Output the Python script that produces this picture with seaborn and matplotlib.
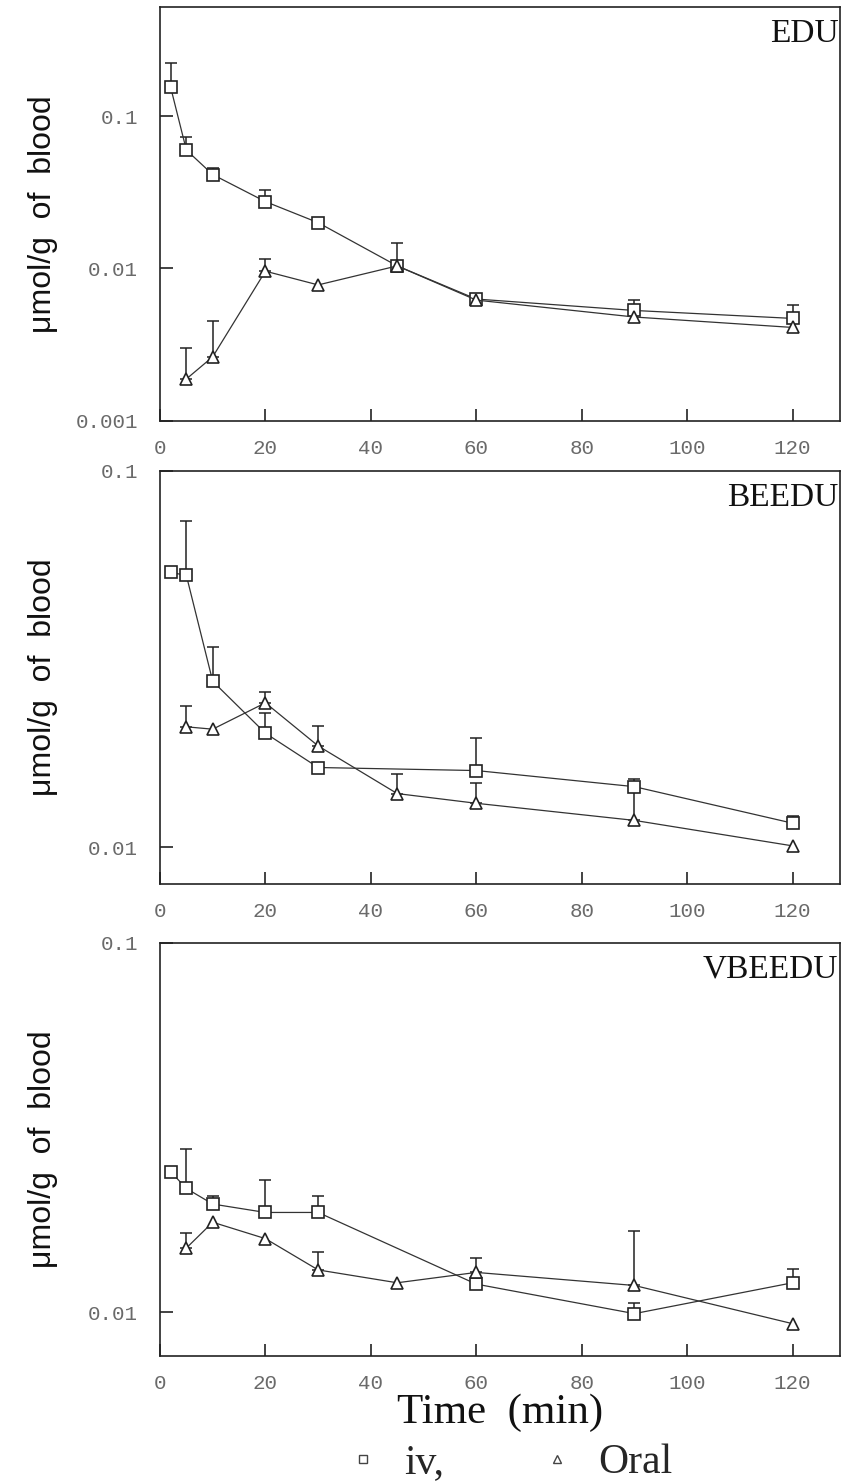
import numpy as np
import pandas as pd
import seaborn as sns
import matplotlib.pyplot as plt
from matplotlib.lines import Line2D
from matplotlib.ticker import NullLocator

# Sampling times (min)
t_iv = [2, 5, 10, 20, 30, 60, 90, 120]
t_iv_edu = [2, 5, 10, 20, 30, 45, 60, 90, 120]
t_oral = [5, 10, 20, 30, 45, 60, 90, 120]

# EDU (umol/g of blood), mean and upper end of error bar (nan = no bar)
edu_iv = [0.156, 0.060, 0.0414, 0.0275, 0.020, 0.0104, 0.0063, 0.0053, 0.0047]
edu_iv_top = [0.223, 0.073, 0.046, 0.0327, np.nan, np.nan, np.nan, 0.0062, 0.0058]
edu_oral = [0.00188, 0.00263, 0.0096, 0.0078, 0.0104, 0.0062, 0.0048, 0.0041]
edu_oral_top = [0.0030, 0.0045, 0.0115, np.nan, 0.0146, np.nan, np.nan, np.nan]

# BEEDU
beedu_iv = [0.0537, 0.0527, 0.0276, 0.0201, 0.0163, 0.0160, 0.0145, 0.0116]
beedu_iv_top = [np.nan, 0.0736, 0.034, 0.0228, np.nan, 0.0195, 0.0152, 0.0121]
beedu_oral = [0.0209, 0.0206, 0.0242, 0.0186, 0.0139, 0.0131, 0.0118, 0.0101]
beedu_oral_top = [0.0238, np.nan, 0.0258, 0.0210, 0.0157, 0.0148, 0.0140, np.nan]

# VBEEDU
vbeedu_iv = [0.0240, 0.0216, 0.0196, 0.0186, 0.0186, 0.0119, 0.0099, 0.0120]
vbeedu_iv_top = [np.nan, 0.0277, 0.0206, 0.0227, 0.0206, np.nan, 0.0106, 0.0131]
vbeedu_oral = [0.0149, 0.0175, 0.0158, 0.0130, 0.0120, 0.0128, 0.0118, 0.0093]
vbeedu_oral_top = [0.0164, np.nan, np.nan, 0.0145, np.nan, 0.0140, 0.0166, np.nan]

x_ticks = [0, 20, 40, 60, 80, 100, 120]

panels = [
    ('EDU', t_iv_edu, edu_iv, edu_iv_top, edu_oral, edu_oral_top,
     (0.001, 0.52), [0.001, 0.01, 0.1], ['0.001', '0.01', '0.1']),
    ('BEEDU', t_iv, beedu_iv, beedu_iv_top, beedu_oral, beedu_oral_top,
     (0.008, 0.1), [0.01, 0.1], ['0.01', '0.1']),
    ('VBEEDU', t_iv, vbeedu_iv, vbeedu_iv_top, vbeedu_oral, vbeedu_oral_top,
     (0.0076, 0.1), [0.01, 0.1], ['0.01', '0.1']),
]

sns.set_style('ticks')
plt.rcParams['font.family'] = ['Liberation Sans', 'DejaVu Sans']

fig = plt.figure(figsize=(8.43, 14.83), dpi=100)
bottoms = [0.7163, 0.4039, 0.0856]

mono = 'Liberation Mono'
serif = 'Liberation Serif'
ink = '#222222'

for (name, t_i, iv, iv_top, oral, oral_top, ylim, yt, ytl), b in zip(panels, bottoms):
    ax = fig.add_axes([0.1898, b, 0.8066, 0.2788])

    df = pd.concat([
        pd.DataFrame({'time': t_i, 'conc': iv, 'route': 'iv'}),
        pd.DataFrame({'time': t_oral, 'conc': oral, 'route': 'Oral'}),
    ])

    # upper error bars only
    for t, y, top in [(t_i, iv, iv_top), (t_oral, oral, oral_top)]:
        t = np.array(t, float)
        y = np.array(y)
        top = np.array(top)
        m = ~np.isnan(top)
        ax.errorbar(t[m], y[m], yerr=[np.zeros(m.sum()), top[m] - y[m]],
                    fmt='none', ecolor=ink, elinewidth=1.1, capsize=4,
                    capthick=1.1, zorder=1.5)

    sns.lineplot(data=df, x='time', y='conc', style='route',
                 markers={'iv': 's', 'Oral': '^'}, dashes=False,
                 color='#333333', lw=0.9, markersize=8.5,
                 markerfacecolor='white', markeredgecolor=ink,
                 markeredgewidth=1.2, legend=False, ax=ax, zorder=2)

    ax.set_yscale('log')
    ax.set_ylim(*ylim)
    ax.set_xlim(0.7, 129)
    ax.set_yticks(yt, ytl)
    ax.yaxis.set_minor_locator(NullLocator())
    ax.set_xticks(x_ticks, [str(v) for v in x_ticks])
    ax.tick_params(direction='in', length=9, width=1.2, color=ink,
                   labelsize=15, labelcolor='#6a6a6a')
    ax.tick_params(axis='x', pad=13)
    ax.tick_params(axis='y', pad=16)
    for lab in ax.get_xticklabels() + ax.get_yticklabels():
        lab.set_family(mono)
    for sp in ax.spines.values():
        sp.set_visible(True)
        sp.set_linewidth(1.2)
        sp.set_color(ink)

    ax.set_ylabel('μmol/g  of  blood', fontsize=23, color='#111111')
    ax.yaxis.set_label_coords(-0.15, 0.5)
    ax.set_xlabel('')
    ax.text(0.998, 0.972, name, transform=ax.transAxes, ha='right', va='top',
            fontsize=24, family=serif, color='#111111')

ax.set_xlabel('Time  (min)', fontsize=31, family=serif, color='#111111')
ax.xaxis.set_label_coords(0.5, -0.09)

handles = [
    Line2D([], [], ls='none', marker='s', ms=6, mfc='white', mec='#444444', mew=1),
    Line2D([], [], ls='none', marker='^', ms=6, mfc='white', mec='#444444', mew=1),
]
fig.legend(handles, ['iv,', 'Oral'], loc='center', bbox_to_anchor=(0.607, 0.0135),
           ncol=2, frameon=False, handlelength=0.6, handletextpad=0.7,
           columnspacing=2.4, prop={'family': serif, 'size': 30})

fig.savefig('out.png', dpi=100, facecolor='white')
